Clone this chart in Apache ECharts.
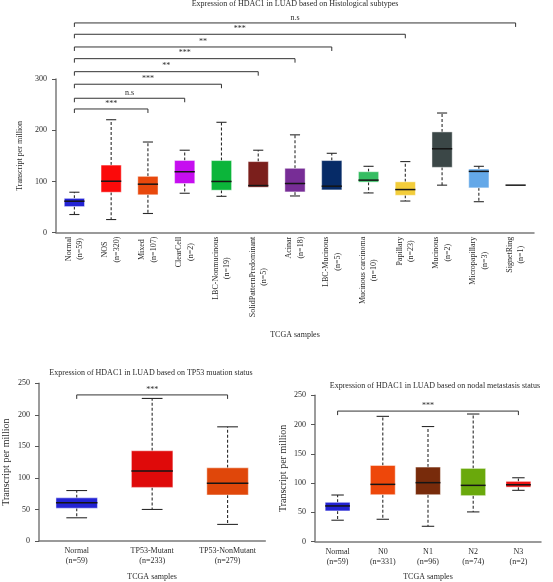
<!DOCTYPE html>
<html><head><meta charset="utf-8">
<script src="https://cdn.jsdelivr.net/npm/echarts@6/dist/echarts.min.js"></script>
<style>html,body{margin:0;padding:0;background:#fff}#c{width:553px;height:582px}</style>
</head><body><div id="c"></div>
<script>
// ---------- Histological subtypes ----------
const topCats = ['Normal','NOS','Mixed','ClearCell','LBC-Nonmucinous','SolidPatternPredominant','Acinar','LBC-Mucinous','Mucinous carcinoma','Papillary','Mucinous','Micropapillary','SignetRing'];
const topN = [59,320,107,2,19,5,18,5,10,23,2,3,1];
// [min, q1, median, q3, max]
const topStats = [
  [35.5,51,61.5,67,79],
  [25.7,79,100.5,132,220.5],
  [37.5,74,94.7,110,177],
  [77,96,119,141,161],
  [71,83,100,140.8,215.5],
  [88.8,88.8,92,138.8,161],
  [71.7,79.6,96,125.7,191],
  [83.5,83.5,90.8,140.8,155],
  [77.6,98.7,102.6,119,129.6],
  [61.8,73,84.2,99.3,138.8],
  [92.8,127.6,163.8,196.7,233.6],
  [60.5,87.5,119.7,124.3,129.6],
  [92.8,92.8,92.8,92.8,92.8]
];
const topBrEnd = [2,3,4,5,6,7,9,12];
const topBrY = [241.5,262.4,289.8,314.3,339.7,362.5,387.3,409.4];
const topBrLab = ['***','n.s','***','**','***','**','***','n.s'];
const topTicks = [0,100,200,300];

// ---------- TP53 mutation ----------
const tpCats = ['Normal','TP53-Mutant','TP53-NonMutant'];
const tpN = [59,233,279];
const tpStats = [
  [36.8,52,60.5,68.4,80],
  [50,85,111,143,226],
  [26.3,73,91.6,116,181]
];
const tpBrEnd = [2];
const tpBrY = [231.6];
const tpBrLab = ['***'];

// ---------- Nodal metastasis ----------
const nCats = ['Normal','N0','N1','N2','N3'];
const nN = [59,331,96,74,2];
const nStats = [
  [36.4,52.3,60.8,67,79.5],
  [38,80,97.7,130,214],
  [26,80,100.6,127.3,196.6],
  [50.6,78.4,96,125,218],
  [87.5,93,97,102.8,109]
];
const nBrEnd = [4];
const nBrY = [223];
const nBrLab = ['***'];

// ---------- styles ----------
const topColors = ['#2323d4','#fb0a0a','#e8480c','#c60ef0','#0cb53a','#7b1f1c','#772d96','#062b67','#36bd62','#f3cd3a','#3b4747','#64a8e8','#333333'];
const tpColors = ['#2323d4','#df0a0a','#e0470a'];
const nColors = ['#2323d4','#ee470a','#782b0b','#6aa90c','#ee1212'];
const FF = '"Liberation Serif", "DejaVu Serif", serif';
const TXT = '#2a2a2a';

function boxRender(colors){
  return function(params, api){
    const idx = api.value(0);
    const mn = api.value(1), q1 = api.value(2), md = api.value(3), q3 = api.value(4), mx = api.value(5);
    const cx = api.coord([idx, md])[0];
    const bw = api.size([1, 0])[0] * 0.55;
    const h = bw / 2, cap = bw * 0.25;
    const yMn = api.coord([idx, mn])[1], yQ1 = api.coord([idx, q1])[1], yMd = api.coord([idx, md])[1];
    const yQ3 = api.coord([idx, q3])[1], yMx = api.coord([idx, mx])[1];
    const wl = {stroke:'#2b2b2b', lineWidth:1.1, lineDash:[3,2]};
    const cl = {stroke:'#2b2b2b', lineWidth:1.1};
    const ch = [];
    if (yMx < yQ3 - 0.5) {
      ch.push({type:'line', shape:{x1:cx,y1:yQ3,x2:cx,y2:yMx}, style:wl});
      ch.push({type:'line', shape:{x1:cx-cap,y1:yMx,x2:cx+cap,y2:yMx}, style:cl});
    }
    if (yMn > yQ1 + 0.5) {
      ch.push({type:'line', shape:{x1:cx,y1:yQ1,x2:cx,y2:yMn}, style:wl});
      ch.push({type:'line', shape:{x1:cx-cap,y1:yMn,x2:cx+cap,y2:yMn}, style:cl});
    }
    if (yQ1 - yQ3 > 0.5) {
      ch.push({type:'rect', shape:{x:cx-h, y:yQ3, width:bw, height:yQ1-yQ3},
        style:{fill:colors[params.dataIndex], stroke:'rgba(255,255,255,0.45)', lineWidth:1}});
    }
    ch.push({type:'line', shape:{x1:cx-h,y1:yMd,x2:cx+h,y2:yMd}, style:{stroke:'#151515', lineWidth:1.5}});
    return {type:'group', children:ch};
  };
}
function brRender(labels){
  return function(params, api){
    const p1 = api.coord([api.value(0), api.value(2)]);
    const p2 = api.coord([api.value(1), api.value(2)]);
    const y = p1[1];
    return {type:'group', children:[
      {type:'polyline', shape:{points:[[p1[0],y+4],[p1[0],y],[p2[0],y],[p2[0],y+4]]}, style:{stroke:'#333', lineWidth:1, fill:null}},
      {type:'text', style:{text:labels[params.dataIndex], x:(p1[0]+p2[0])/2, y:y-1.5, align:'center', verticalAlign:'bottom', fontSize:8, fontFamily:FF, fill:TXT}}
    ]};
  };
}
function boxData(stats){ return stats.map((s,i)=>[i].concat(s)); }
function brData(ends, ys){ return ends.map((e,i)=>[0, e, ys[i]]); }

function yAx(gi, max, interval, nameGap, nameSize){
  return {type:'value', gridIndex:gi, min:0, max:max, interval:interval,
    splitLine:{show:false},
    axisLine:{show:true, lineStyle:{color:'#7a7a7a', width:1.5}},
    axisTick:{show:true, length:4, lineStyle:{color:'#555', width:1}},
    axisLabel:{margin:9, fontSize:8, fontFamily:FF, color:TXT},
    name:'Transcript per million', nameLocation:'middle', nameGap:nameGap, nameRotate:90,
    nameTextStyle:{fontSize:nameSize, fontFamily:FF, color:TXT}};
}
function xAx(gi, cats, ns, nameGap){
  return {type:'category', gridIndex:gi, data:cats, boundaryGap:true,
    axisLine:{lineStyle:{color:'#7a7a7a', width:1.5}},
    axisTick:{show:false},
    axisLabel:{interval:0, margin:5, fontSize:8, lineHeight:10, fontFamily:FF, color:TXT,
      formatter:(v,i)=>v+'\n(n='+ns[i]+')'},
    name:'TCGA samples', nameLocation:'middle', nameGap:nameGap,
    nameTextStyle:{fontSize:8, fontFamily:FF, color:TXT}};
}

const topX = xAx(0, topCats, topN, 98);
topX.axisLabel = {interval:0, rotate:90, margin:4, fontSize:8, fontFamily:FF, color:TXT,
  formatter:(v,i)=>'{a|'+v+'}\n{a|(n='+topN[i]+')}',
  rich:{a:{align:'center', fontSize:8, lineHeight:11.5, fontFamily:FF, color:TXT}}};

const chart = echarts.init(document.getElementById('c'), null, {renderer:'canvas'});
chart.setOption({
  animation:false,
  backgroundColor:'#fff',
  title:[
    {text:'Expression of HDAC1 in LUAD based on Histological subtypes', left:295, top:0, textAlign:'center', padding:0,
      textStyle:{fontSize:8, fontWeight:'normal', fontFamily:FF, color:TXT}},
    {text:'Expression of HDAC1 in LUAD based on TP53 muation status', left:151, top:369, textAlign:'center', padding:0,
      textStyle:{fontSize:8, fontWeight:'normal', fontFamily:FF, color:TXT}},
    {text:'Expression of HDAC1 in LUAD based on nodal metastasis status', left:435, top:381.5, textAlign:'center', padding:0,
      textStyle:{fontSize:8, fontWeight:'normal', fontFamily:FF, color:TXT}}
  ],
  grid:[
    {left:56, top:79, width:478, height:153.7},
    {left:38.3, top:383.3, width:227, height:158.3},
    {left:315, top:395.3, width:226, height:146.4}
  ],
  xAxis:[topX, xAx(1, tpCats, tpN, 32), xAx(2, nCats, nN, 31.5)],
  yAxis:[yAx(0, 300, 100, 29, 8), yAx(1, 250, 50, 28, 10), yAx(2, 250, 50, 27, 10)],
  series:[
    {type:'custom', xAxisIndex:0, yAxisIndex:0, clip:false, renderItem:boxRender(topColors), data:boxData(topStats), encode:{x:0, y:[1,2,3,4,5]}},
    {type:'custom', xAxisIndex:0, yAxisIndex:0, clip:false, renderItem:brRender(topBrLab), data:brData(topBrEnd, topBrY), encode:{x:[0,1], y:2}},
    {type:'custom', xAxisIndex:1, yAxisIndex:1, clip:false, renderItem:boxRender(tpColors), data:boxData(tpStats), encode:{x:0, y:[1,2,3,4,5]}},
    {type:'custom', xAxisIndex:1, yAxisIndex:1, clip:false, renderItem:brRender(tpBrLab), data:brData(tpBrEnd, tpBrY), encode:{x:[0,1], y:2}},
    {type:'custom', xAxisIndex:2, yAxisIndex:2, clip:false, renderItem:boxRender(nColors), data:boxData(nStats), encode:{x:0, y:[1,2,3,4,5]}},
    {type:'custom', xAxisIndex:2, yAxisIndex:2, clip:false, renderItem:brRender(nBrLab), data:brData(nBrEnd, nBrY), encode:{x:[0,1], y:2}}
  ]
});
</script>
</body></html>
